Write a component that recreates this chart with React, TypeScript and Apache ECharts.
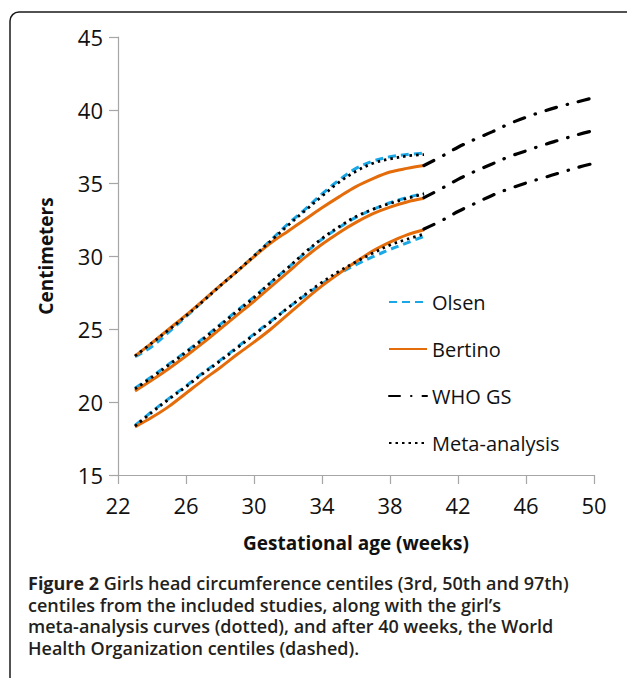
import React, { useEffect, useRef } from "react";
import * as echarts from "echarts";

// ---- data ----
const weeks = [23, 24, 25, 26, 27, 28, 29, 30, 31, 32, 33, 34, 35, 36, 37, 38, 39, 40];
const whoWeeks = [40, 41, 42, 43, 44, 45, 46, 47, 48, 49, 50];

const olsenP97 = [23.1, 23.8, 24.8, 25.85, 26.9, 27.95, 28.95, 30.0, 31.1, 32.2, 33.2, 34.25, 35.2, 36.0, 36.5, 36.8, 36.95, 37.05];
const olsenP50 = [20.95, 21.75, 22.6, 23.45, 24.35, 25.3, 26.25, 27.2, 28.2, 29.2, 30.2, 31.15, 31.95, 32.65, 33.2, 33.65, 34.0, 34.3];
const olsenP3 = [18.4, 19.35, 20.25, 21.1, 22.0, 22.85, 23.75, 24.65, 25.55, 26.45, 27.3, 28.1, 28.8, 29.4, 29.95, 30.45, 30.9, 31.35];

const bertinoP97 = [23.15, 24.05, 25.0, 25.95, 26.95, 27.95, 28.95, 29.95, 30.9, 31.7, 32.5, 33.3, 34.05, 34.75, 35.3, 35.75, 36.0, 36.2];
const bertinoP50 = [20.75, 21.5, 22.3, 23.15, 24.05, 25.0, 25.95, 26.9, 27.9, 28.9, 29.9, 30.8, 31.6, 32.3, 32.9, 33.35, 33.7, 33.95];
const bertinoP3 = [18.3, 18.95, 19.7, 20.6, 21.5, 22.35, 23.25, 24.1, 25.0, 26.0, 27.0, 27.95, 28.8, 29.6, 30.35, 30.95, 31.45, 31.8];

const metaP97 = [23.15, 24.05, 24.95, 25.9, 26.9, 27.95, 28.95, 30.0, 31.05, 32.1, 33.1, 34.1, 35.05, 35.8, 36.35, 36.65, 36.85, 36.95];
const metaP50 = [20.9, 21.7, 22.55, 23.4, 24.3, 25.25, 26.2, 27.15, 28.2, 29.2, 30.25, 31.2, 32.0, 32.7, 33.2, 33.6, 33.95, 34.25];
const metaP3 = [18.35, 19.3, 20.2, 21.05, 21.95, 22.8, 23.7, 24.6, 25.5, 26.45, 27.35, 28.2, 28.95, 29.6, 30.2, 30.75, 31.15, 31.5];

const whoP97 = [36.2, 36.8, 37.45, 38.0, 38.5, 39.05, 39.5, 39.9, 40.25, 40.55, 40.85];
const whoP50 = [34.0, 34.6, 35.25, 35.8, 36.3, 36.8, 37.2, 37.6, 37.95, 38.3, 38.6];
const whoP3 = [31.85, 32.4, 33.05, 33.6, 34.15, 34.6, 35.0, 35.35, 35.7, 36.05, 36.35];

const xTicks = [22, 26, 30, 34, 38, 42, 46, 50];
const seriesNames = ["Olsen", "Bertino", "WHO GS", "Meta-analysis"];

const captionLines = [
  "{b|Figure 2} {n|Girls head circumference centiles (3rd, 50th and 97th)}",
  "{n|centiles from the included studies, along with the girl\u2019s}",
  "{n|meta-analysis curves (dotted), and after 40 weeks, the World}",
  "{n|Health Organization centiles (dashed).}",
];

const pair = (xs: number[], ys: number[]) => xs.map((x, i) => [x, ys[i]]);

export default function App() {
  const ref = useRef<HTMLDivElement>(null);
  useEffect(() => {
    if (!ref.current) return;
    const chart = echarts.init(ref.current, null, { renderer: "svg" });
    const font = "'Open Sans', 'DejaVu Sans', sans-serif";

    const olsenStyle = { color: "#1aa7e6", width: 3, type: [8, 5] as any };
    const bertinoStyle = { color: "#e46c0a", width: 3, type: "solid" as any };
    const whoStyle = { color: "#000", width: 3.2, type: [11, 11, 0.5, 11] as any, cap: "round" as any };
    const metaStyle = { color: "#000", width: 2.8, type: [2.5, 4] as any };

    const mk = (name: string, xs: number[], ys: number[], ls: any, z: number) => ({
      type: "line",
      name,
      data: pair(xs, ys),
      symbol: "none",
      smooth: 0.35,
      lineStyle: ls,
      itemStyle: { color: ls.color },
      z,
      silent: true,
    });

    const capFs = 18;
    const captionGraphics = captionLines.map((line, i) => ({
      type: "text",
      left: 28,
      top: 573 + i * 21.7,
      style: {
        text: line,
        fontFamily: font,
        fontSize: capFs,
        lineHeight: 20,
        fill: "#231f20",
        rich: {
          b: { fontFamily: font, fontSize: capFs, fontWeight: "bold", fill: "#231f20", lineHeight: 20 },
          n: { fontFamily: font, fontSize: capFs, fontWeight: 600, fill: "#231f20", lineHeight: 20 },
        },
      },
    }));

    const option: any = {
      animation: false,
      backgroundColor: "#fff",
      textStyle: { fontFamily: font },
      grid: { left: 118, right: 33, top: 37, bottom: 203, containLabel: false },
      xAxis: {
        type: "value",
        min: 22,
        max: 50,
        name: "Gestational age (weeks)",
        nameLocation: "middle",
        nameGap: 58,
        nameTextStyle: { fontFamily: font, fontSize: 19, fontWeight: "bold", color: "#111" },
        axisLine: { lineStyle: { color: "#a6a6a6", width: 1.2 } },
        axisTick: { show: true, length: 9, customValues: xTicks, lineStyle: { color: "#a6a6a6", width: 1.2 } },
        axisLabel: { customValues: xTicks, fontSize: 22, color: "#111", margin: 19, fontFamily: font },
        splitLine: { show: false },
      },
      yAxis: {
        type: "value",
        min: 15,
        max: 45,
        interval: 5,
        name: "Centimeters",
        nameLocation: "middle",
        nameGap: 63,
        nameTextStyle: { fontFamily: font, fontSize: 19, fontWeight: "bold", color: "#111" },
        axisLine: { show: true, lineStyle: { color: "#a6a6a6", width: 1.2 } },
        axisTick: { show: true, length: 9, lineStyle: { color: "#a6a6a6", width: 1.2 } },
        axisLabel: { fontSize: 22, color: "#111", margin: 15, fontFamily: font },
        splitLine: { show: false },
      },
      legend: {
        data: seriesNames,
        orient: "vertical",
        left: 383,
        top: 285,
        itemWidth: 38,
        itemHeight: 14,
        itemGap: 23,
        itemStyle: { opacity: 0 },
        textStyle: { fontFamily: font, fontSize: 20, color: "#111", lineHeight: 24 },
        selectedMode: false,
      },
      series: [
        mk("Olsen", weeks, olsenP97, olsenStyle, 2),
        mk("Olsen", weeks, olsenP50, olsenStyle, 2),
        mk("Olsen", weeks, olsenP3, olsenStyle, 2),
        mk("Bertino", weeks, bertinoP97, bertinoStyle, 3),
        mk("Bertino", weeks, bertinoP50, bertinoStyle, 3),
        mk("Bertino", weeks, bertinoP3, bertinoStyle, 3),
        mk("WHO GS", whoWeeks, whoP97, whoStyle, 5),
        mk("WHO GS", whoWeeks, whoP50, whoStyle, 5),
        mk("WHO GS", whoWeeks, whoP3, whoStyle, 5),
        mk("Meta-analysis", weeks, metaP97, metaStyle, 4),
        mk("Meta-analysis", weeks, metaP50, metaStyle, 4),
        mk("Meta-analysis", weeks, metaP3, metaStyle, 4),
      ],
      graphic: [
        {
          type: "rect",
          shape: { x: 10, y: 12, width: 700, height: 720, r: 9 },
          style: { fill: "none", stroke: "#1a1a1a", lineWidth: 1.5 },
          silent: true,
          z: 0,
        },
        ...captionGraphics,
      ],
    };
    chart.setOption(option);
    return () => chart.dispose();
  }, []);
  return (
    <div
      ref={ref}
      style={{ position: "fixed", left: 0, top: 0, width: 627, height: 678, background: "#fff" }}
    />
  );
}
